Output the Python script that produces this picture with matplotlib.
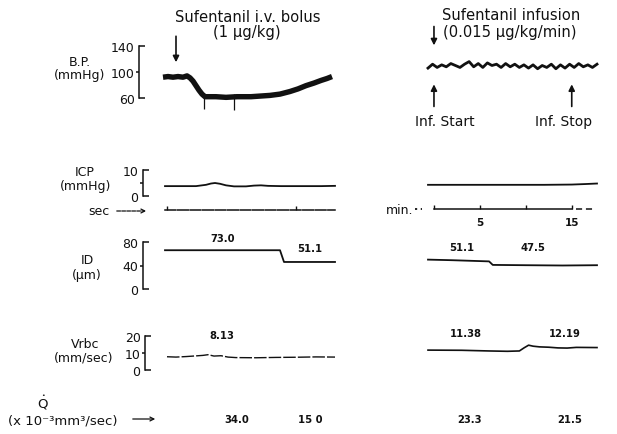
import numpy as np
import matplotlib
matplotlib.use("Agg")
import matplotlib.pyplot as plt

W, H = 617, 435

# ---------------- data ----------------
# left column: time in s relative to bolus (arbitrary seconds)
bp_bolus_t = [-13, -8, -3, 2, 7, 11, 14, 17, 20, 23, 26, 29, 40, 50, 61, 75, 94, 104, 114, 122, 130, 138, 145, 151, 156]
bp_bolus_v = [92, 93, 92, 93, 92, 94, 91, 86, 79, 72, 66, 62, 62, 61, 62, 62, 64, 66, 70, 74, 79, 83, 87, 90, 93]
bp_spike_t = [28, 58]
bp_spike_lo = [43, 42]
bp_spike_hi = [66, 66]

icp_bolus_t = [-11, 20, 30, 35, 39, 44, 50, 58, 70, 78, 85, 92, 105, 125, 145, 159]
icp_bolus_v = [3.8, 3.8, 4.3, 4.8, 5.0, 4.7, 4.1, 3.7, 3.7, 4.0, 4.1, 3.9, 3.8, 3.8, 3.8, 3.9]

sec_marks = [-9, 120]

id_bolus_t = [-11, 104, 108, 159]
id_bolus_v = [66, 66, 46, 46]

vrbc_bolus_t = [-9, 0, 10, 20, 27, 32, 38, 45, 52, 60, 80, 100, 120, 140, 159]
vrbc_bolus_v = [7.8, 7.6, 7.9, 8.3, 8.6, 9.0, 8.2, 8.4, 7.6, 7.3, 7.2, 7.4, 7.5, 7.7, 7.6]

# right column: time in min from infusion start
bp_inf_v = [106, 112, 107, 111, 108, 113, 110, 107, 112, 116, 108, 113, 107, 114, 110, 112,
            107, 113, 108, 112, 107, 111, 106, 111, 105, 110, 107, 112, 105, 111, 106, 112,
            107, 113, 108, 111, 107, 112]
bp_inf_range = (-0.65, 17.75)

icp_inf_t = [-0.65, 4, 8, 12, 15, 16.5, 17.75]
icp_inf_v = [4.3, 4.3, 4.3, 4.3, 4.4, 4.6, 4.8]

min_ticks = [0, 5, 10, 15]
min_labels = ["", "5", "", "15"]

id_inf_t = [-0.65, 2, 4, 6.0, 6.4, 10, 14, 17.75]
id_inf_v = [50, 49, 48, 47, 41, 40.5, 40, 40.5]

vrbc_inf_t = [-0.65, 3, 6, 8, 9.3, 9.8, 10.3, 10.8, 11.5, 12.5, 13.5, 14.5, 15.5, 17.75]
vrbc_inf_v = [11.7, 11.6, 11.2, 11.0, 11.2, 13.0, 14.6, 14.0, 13.6, 13.4, 13.0, 12.9, 13.3, 13.2]

infusion_start, infusion_stop = 0, 15
bolus_time = 0

id_labels = ["73.0", "51.1", "51.1", "47.5"]
vrbc_labels = ["8.13", "11.38", "12.19"]
q_labels = ["34.0", "15 0", "23.3", "21.5"]

# ---------------- figure ----------------
INK = "#111111"
plt.rcParams["font.family"] = ["DejaVu Sans"]
fig = plt.figure(figsize=(W / 100, H / 100), dpi=100)
fig.patch.set_facecolor("white")

LX0, LX1 = 163, 336
RX0, RX1 = 428, 597
L_XLIM = (-13, 160)
R_XLIM = bp_inf_range


def add_ax(x0, x1, ytop, ybot, xlim, ylim):
    ax = fig.add_axes([x0 / W, 1 - ybot / H, (x1 - x0) / W, (ybot - ytop) / H])
    ax.patch.set_alpha(0)
    for s in ax.spines.values():
        s.set_visible(False)
    ax.set_xticks([])
    ax.set_yticks([])
    ax.set_xlim(*xlim)
    ax.set_ylim(*ylim)
    return ax


def bracket(ax, bx, lo, mid, hi, labels):
    sp = ax.spines["left"]
    sp.set_visible(True)
    sp.set_position(("outward", (LX0 - bx) * 0.72))
    sp.set_bounds(lo, hi)
    sp.set_linewidth(1.1)
    sp.set_color(INK)
    ax.set_yticks([lo, hi], [labels[0], labels[2]])
    ax.set_yticks([mid], [labels[1]], minor=True)
    ax.tick_params(axis="y", which="major", direction="in", length=4.3, width=1.1,
                   pad=3.2, labelsize=9, colors=INK)
    ax.tick_params(axis="y", which="minor", direction="out", length=2.2, width=1.1,
                   pad=1.0, labelsize=9, colors=INK)


def ftext(x, y, s, size=9, ha="center", **kw):
    fig.text(x / W, 1 - y / H, s, ha=ha, va="center", fontsize=size, color=INK, **kw)


# ---- BP row ----
axbl = add_ax(LX0, LX1, 47, 99, L_XLIM, (60, 140))
axbl.plot(bp_bolus_t, bp_bolus_v, color=INK, lw=3.9, solid_capstyle="butt", clip_on=False)
axbl.vlines(bp_spike_t, bp_spike_lo, bp_spike_hi, color=INK, lw=0.9, clip_on=False)
bracket(axbl, 139, 60, 100, 140, ["60", "100", "140"])
axbl.annotate("", xy=(bolus_time, 115), xytext=(bolus_time, 155), annotation_clip=False,
              arrowprops=dict(arrowstyle="-|>", color=INK, lw=1.2, mutation_scale=9,
                              shrinkA=0, shrinkB=0))

axbr = add_ax(RX0, RX1, 47, 99, R_XLIM, (60, 140))
t_inf = np.linspace(bp_inf_range[0], bp_inf_range[1], len(bp_inf_v))
axbr.plot(t_inf, bp_inf_v, color=INK, lw=2.0, clip_on=False)
axbr.annotate("", xy=(infusion_start, 141), xytext=(infusion_start, 170), annotation_clip=False,
              arrowprops=dict(arrowstyle="-|>", color=INK, lw=1.2, mutation_scale=9,
                              shrinkA=0, shrinkB=0))
for tt in (infusion_start, infusion_stop):
    axbr.annotate("", xy=(tt, 81), xytext=(tt, 47), annotation_clip=False,
                  arrowprops=dict(arrowstyle="-|>", color=INK, lw=1.2, mutation_scale=9,
                                  shrinkA=0, shrinkB=0))

# ---- ICP row ----
axil = add_ax(LX0, LX1, 171, 197, L_XLIM, (0, 10))
axil.plot(icp_bolus_t, icp_bolus_v, color=INK, lw=1.3, clip_on=False)
bracket(axil, 143, 0, 5, 10, ["0", "", "10"])

axir = add_ax(RX0, RX1, 171, 197, R_XLIM, (0, 10))
axir.plot(icp_inf_t, icp_inf_v, color=INK, lw=1.3, clip_on=False)

# ---- time rows ----
axsl = add_ax(LX0, LX1, 201, 211, L_XLIM, (0, 1))
sp = axsl.spines["bottom"]
sp.set_visible(True)
sp.set_bounds(-11, 159)
sp.set_linewidth(1.1)
sp.set_linestyle((0, (7, 1.2)))
sp.set_color(INK)
axsl.set_xticks(sec_marks, ["", ""])
axsl.tick_params(axis="x", direction="in", length=3, width=1.0, colors=INK)

axsr = add_ax(RX0, RX1, 200, 210, R_XLIM, (0, 1))
sp = axsr.spines["bottom"]
sp.set_visible(True)
sp.set_bounds(min_ticks[0], min_ticks[-1])
sp.set_linewidth(1.1)
sp.set_color(INK)
axsr.set_xticks(min_ticks, min_labels)
axsr.tick_params(axis="x", direction="in", length=3.2, width=1.0, pad=6,
                 labelsize=7.5, colors=INK)
for lab in axsr.get_xticklabels():
    lab.set_fontweight("bold")
axsr.plot([-2.05, -1.3], [0, 0], color=INK, lw=1.3, ls=(0, (1.2, 2.0)), clip_on=False)
axsr.plot([15.5, 17.4], [0, 0], color=INK, lw=1.1, ls=(0, (4, 2.5)), clip_on=False)

# ---- ID row ----
axdl = add_ax(LX0, LX1, 243, 290, L_XLIM, (0, 80))
axdl.plot(id_bolus_t, id_bolus_v, color=INK, lw=1.3, clip_on=False)
bracket(axdl, 143, 0, 40, 80, ["0", "40", "80"])

axdr = add_ax(RX0, RX1, 243, 290, R_XLIM, (0, 80))
axdr.plot(id_inf_t, id_inf_v, color=INK, lw=1.3, clip_on=False)

# ---- Vrbc row ----
axvl = add_ax(LX0, LX1, 337, 371, L_XLIM, (0, 20))
axvl.plot(vrbc_bolus_t, vrbc_bolus_v, color=INK, lw=1.0, ls=(0, (9, 1.5)), clip_on=False)
bracket(axvl, 145, 0, 10, 20, ["0", "10", "20"])

axvr = add_ax(RX0, RX1, 337, 371, R_XLIM, (0, 20))
axvr.plot(vrbc_inf_t, vrbc_inf_v, color=INK, lw=1.2, clip_on=False)

# ---------------- text ----------------
ftext(248, 18, "Sufentanil i.v. bolus", size=10.6)
ftext(247, 33, "(1 \u00b5g/kg)", size=10.6)
ftext(511, 16, "Sufentanil infusion", size=10.6)
ftext(510, 32, "(0.015 \u00b5g/kg/min)", size=10.6)
ftext(445, 122, "Inf. Start", size=10)
ftext(564, 122, "Inf. Stop", size=10)

ftext(80, 62, "B.P.", size=9)
ftext(80, 75, "(mmHg)", size=9)
ftext(85, 173, "ICP", size=9)
ftext(86, 187, "(mmHg)", size=9)
ftext(110, 212, "sec", size=9, ha="right")
fig.add_artist(matplotlib.patches.FancyArrowPatch(
    (114 / W, 1 - 212 / H), (149 / W, 1 - 212 / H), transform=fig.transFigure,
    arrowstyle="->", mutation_scale=7, lw=0.9, ls=(0, (3, 1)), color=INK))
ftext(413, 210, "min.", size=9, ha="right")
ftext(87, 260, "ID", size=9)
ftext(87, 275, "(\u00b5m)", size=9)
ftext(85, 345, "Vrbc", size=9)
ftext(84, 358, "(mm/sec)", size=9)
ftext(43, 404, "Q", size=9.5)
ftext(43.5, 396, "\u2022", size=4.5)
ftext(63, 421, "(x 10\u207b\u00b3mm\u00b3/sec)", size=9.5)
fig.add_artist(matplotlib.patches.FancyArrowPatch(
    (130 / W, 1 - 420 / H), (158 / W, 1 - 420 / H), transform=fig.transFigure,
    arrowstyle="->", mutation_scale=7, lw=0.9, color=INK))

for (x, y), s in zip([(223, 239), (310, 249), (462, 248), (533, 248)], id_labels):
    ftext(x, y, s, size=7.2, fontweight="bold")
for (x, y), s in zip([(222, 336), (466, 334), (565, 334)], vrbc_labels):
    ftext(x, y, s, size=7.2, fontweight="bold")
for (x, y), s in zip([(237, 420), (310, 420), (470, 420), (570, 420)], q_labels):
    ftext(x, y, s, size=7.2, fontweight="bold")

fig.savefig("out.png", dpi=100, facecolor="white")
